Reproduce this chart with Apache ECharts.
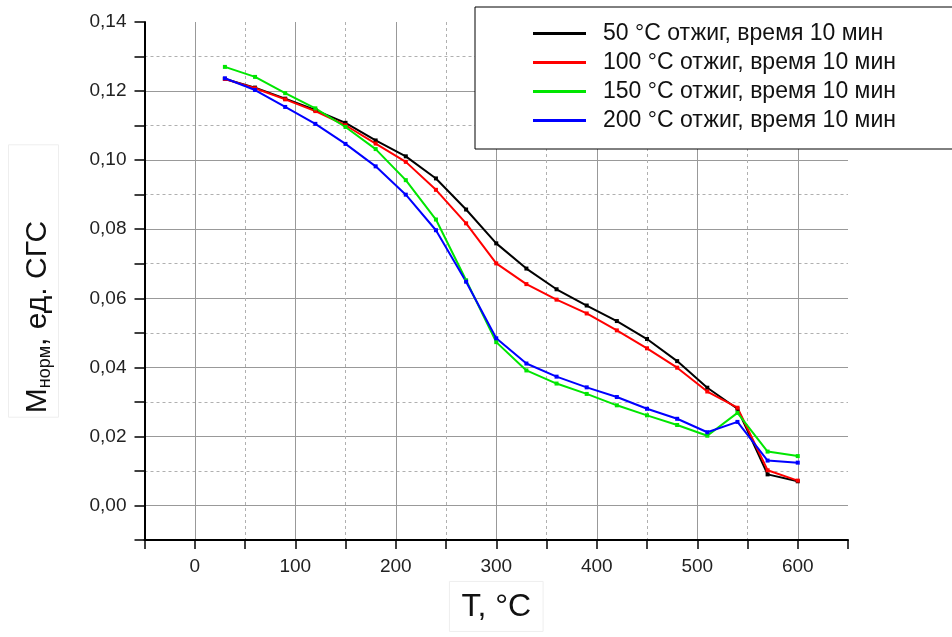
<!DOCTYPE html>
<html>
<head>
<meta charset="utf-8">
<script src="https://cdn.jsdelivr.net/npm/echarts@6/dist/echarts.min.js"></script>
<style>html,body{margin:0;padding:0;background:#fff;}#chart{width:952px;height:637px;}</style>
</head>
<body>
<div id="chart"></div>
<script>
// Temperatures of measurement, °C
var temps = [30, 60, 90, 120, 150, 180, 210, 240, 270, 300, 330, 360, 390, 420, 450, 480, 510, 540, 570, 600];
// Normalized magnetization series
var anneal50  = [0.1235, 0.1210, 0.1178, 0.1145, 0.1108, 0.1057, 0.1011, 0.0947, 0.0857, 0.0759, 0.0686, 0.0626, 0.0579, 0.0534, 0.0482, 0.0418, 0.0341, 0.0280, 0.0090, 0.0070];
var anneal100 = [0.1235, 0.1208, 0.1176, 0.1142, 0.1101, 0.1048, 0.0995, 0.0914, 0.0817, 0.0701, 0.0641, 0.0596, 0.0556, 0.0507, 0.0455, 0.0399, 0.0330, 0.0283, 0.0102, 0.0072];
var anneal150 = [0.1270, 0.1241, 0.1194, 0.1150, 0.1096, 0.1032, 0.0942, 0.0828, 0.0652, 0.0473, 0.0391, 0.0353, 0.0323, 0.0290, 0.0261, 0.0233, 0.0202, 0.0268, 0.0156, 0.0143];
var anneal200 = [0.1237, 0.1203, 0.1154, 0.1105, 0.1047, 0.0982, 0.0900, 0.0797, 0.0648, 0.0484, 0.0411, 0.0373, 0.0342, 0.0314, 0.0280, 0.0251, 0.0212, 0.0242, 0.0130, 0.0124];
var seriesNames = ['50 °C отжиг, время 10 мин', '100 °C отжиг, время 10 мин', '150 °C отжиг, время 10 мин', '200 °C отжиг, время 10 мин'];
var seriesColors = ['#000000', '#ff0000', '#00e600', '#0000ff'];
var xMin = -50, xMax = 650, xStep = 50;
var yMin = -0.01, yMax = 0.14, yStep = 0.01;

var chart = echarts.init(document.getElementById('chart'), null, {renderer: 'canvas'});
var allData = [anneal50, anneal100, anneal150, anneal200];
var series = allData.map(function (vals, i) {
  return {
    name: seriesNames[i],
    type: 'line',
    xAxisIndex: 0, yAxisIndex: 0,
    data: temps.map(function (t, j) { return [t, vals[j]]; }),
    symbol: 'rect', symbolSize: 4, showAllSymbol: true,
    itemStyle: {color: seriesColors[i]},
    lineStyle: {color: seriesColors[i], width: 2},
    animation: false
  };
});

var font = 'Liberation Sans, Arial, sans-serif';
var solidGrid = '#999999', dashGrid = '#b0b0b0', none = 'rgba(0,0,0,0)';
var option = {
  animation: false,
  backgroundColor: '#ffffff',
  grid: {left: 140, top: 22, width: 708, height: 518, containLabel: false},
  legend: {
    orient: 'vertical',
    left: 475, top: 7,
    padding: [15, 80, 17, 58],
    backgroundColor: '#ffffff',
    borderColor: '#000000', borderWidth: 1,
    itemWidth: 53, itemHeight: 3, itemGap: 6,
    icon: 'rect',
    textStyle: {fontFamily: font, fontSize: 23, color: '#111', lineHeight: 23, padding: [0, 0, 0, 12]},
    data: seriesNames
  },
  xAxis: [{
    type: 'value', min: xMin, max: xMax, interval: xStep,
    name: 'T, °C', nameLocation: 'middle', nameGap: 40,
    nameTextStyle: {fontFamily: font, fontSize: 32, color: '#111', borderColor: '#eeeeee', borderWidth: 1, padding: [10, 12, 8, 12]},
    axisLine: {show: true, onZero: false, lineStyle: {color: '#000', width: 2}},
    axisTick: {show: true, inside: false, length: 9, lineStyle: {color: '#000', width: 1.5}},
    axisLabel: {margin: 17, fontFamily: font, fontSize: 19, color: '#222',
      formatter: function (v) { var n = Math.round(v); return (n >= 0 && n % 100 === 0) ? String(n) : ''; }},
    splitLine: {show: true, showMinLine: false, showMaxLine: false, lineStyle: {color: [solidGrid, none], width: 1, type: 'solid'}}
  }, {
    type: 'value', min: xMin, max: xMax, interval: xStep, position: 'bottom',
    axisLine: {show: false}, axisTick: {show: false}, axisLabel: {show: false},
    splitLine: {show: true, showMinLine: false, showMaxLine: false, lineStyle: {color: [none, dashGrid], width: 1, type: [3, 3]}}
  }],
  yAxis: [{
    type: 'value', min: yMin, max: yMax, interval: yStep,
    name: '{m|M}{s|норм}{m|, ед. СГС}', nameLocation: 'middle', nameGap: 86, nameRotate: 90,
    nameTextStyle: {fontFamily: font, color: '#111', borderColor: '#eeeeee', borderWidth: 1, padding: [8, 76, 6, 4],
      rich: {
        m: {fontFamily: font, fontSize: 30, color: '#111', lineHeight: 36, verticalAlign: 'bottom'},
        s: {fontFamily: font, fontSize: 18, color: '#111', lineHeight: 18, verticalAlign: 'bottom', padding: [0, 0, -2, 0]}
      }},
    axisLine: {show: true, onZero: false, lineStyle: {color: '#000', width: 2}},
    axisTick: {show: true, inside: false, length: 10, lineStyle: {color: '#000', width: 1.5}},
    axisLabel: {margin: 18, fontFamily: font, fontSize: 19, color: '#222',
      formatter: function (v) { var n = Math.round(v * 100); return (n >= 0 && n % 2 === 0) ? (n / 100).toFixed(2).replace('.', ',') : ''; }},
    splitLine: {show: true, showMinLine: false, showMaxLine: false, lineStyle: {color: [solidGrid, none], width: 1, type: 'solid'}}
  }, {
    type: 'value', min: yMin, max: yMax, interval: yStep, position: 'left',
    axisLine: {show: false}, axisTick: {show: false}, axisLabel: {show: false},
    splitLine: {show: true, showMinLine: false, showMaxLine: false, lineStyle: {color: [none, dashGrid], width: 1, type: [3, 3]}}
  }],
  series: series
};
chart.setOption(option);
</script>
</body>
</html>
